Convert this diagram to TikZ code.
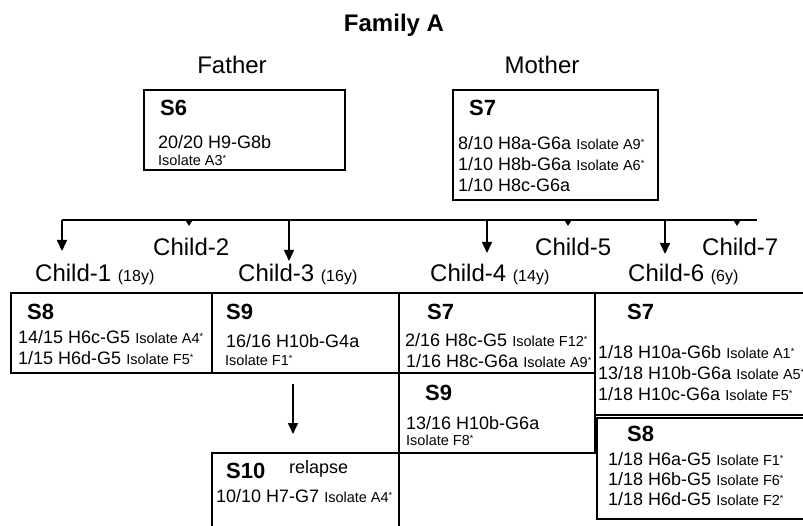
\documentclass[tikz,border=0pt]{standalone}
\usepackage{fontspec}
\setmainfont{Liberation Sans}
\usetikzlibrary{arrows.meta}

\newcommand{\age}[1]{{\fontsize{16}{18}\selectfont(#1)}}
\newcommand{\iso}[1]{{\fontsize{14.5}{16}\selectfont Isolate #1\raisebox{4pt}{\fontsize{9}{9}\selectfont *}}}

\begin{document}
\begin{tikzpicture}[
    x=1pt, y=-1pt,
    title/.style={font=\fontsize{24}{28}\selectfont\bfseries, anchor=base, inner sep=0pt},
    role/.style={font=\fontsize{24}{28}\selectfont, anchor=base, inner sep=0pt},
    child/.style={font=\fontsize{24}{28}\selectfont, anchor=base west, inner sep=0pt},
    famBox/.style={
        rectangle,
        draw,
        line width=1.6pt,
        anchor=north west,
        inner sep=0pt
    },
    sid/.style={font=\fontsize{22}{26}\selectfont\bfseries, anchor=base west, inner sep=0pt},
    entry/.style={font=\fontsize{18}{21}\selectfont, anchor=base west, inner sep=0pt},
    bar/.style={line width=2pt},
    arrow/.style={-{Triangle[length=11pt, width=10pt]}, line width=1.6pt},
    tick/.style={-{Triangle[length=6pt, width=7pt]}, line width=1.6pt}
]
\useasboundingbox (0,0) rectangle (803,526);
\clip (0,0) rectangle (803,526);

% Title and parents
\node[title] (title) at (394,32) {Family A};
\node[role] (father) at (232,74) {Father};
\node[role] (mother) at (542,74) {Mother};

\node[famBox, minimum width=201pt, minimum height=80pt] (s6) at (143,89) {};
\node[sid] (s6head) at (160,116) {S6};
\node[entry] (s6a) at (158,149) {20/20 H9-G8b};
\node[entry] (s6b) at (158,166) {\iso{A3}};

\node[famBox, minimum width=205pt, minimum height=110pt] (s7m) at (452,89) {};
\node[sid] (s7mhead) at (469,116) {S7};
\node[entry] (s7ma) at (458,150) {8/10 H8a-G6a \iso{A9}};
\node[entry] (s7mb) at (458,171) {1/10 H8b-G6a \iso{A6}};
\node[entry] (s7mc) at (458,192) {1/10 H8c-G6a};

% Children
\node[child] (c1) at (35,282) {Child-1 \age{18y}};
\node[child] (c2) at (153,256) {Child-2};
\node[child] (c3) at (238,282) {Child-3 \age{16y}};
\node[child] (c4) at (430,282) {Child-4 \age{14y}};
\node[child] (c5) at (535,256) {Child-5};
\node[child] (c6) at (628,282) {Child-6 \age{6y}};
\node[child] (c7) at (702,256) {Child-7};

% Sibship bar
\coordinate (barL) at (62,220);
\coordinate (barR) at (757,220);
\coordinate (c1tip) at (62,251);
\coordinate (c2tip) at (189,226);
\coordinate (c3tip) at (289,261);
\coordinate (c4tip) at (487,253);
\coordinate (c5tip) at (568,226);
\coordinate (c6tip) at (665,254);
\coordinate (c7tip) at (737,226);

\draw[bar] (barL) -- (barR);
\draw[arrow] (barL) -- (c1tip);
\draw[tick] (barL -| c2tip) -- (c2tip);
\draw[arrow] (barL -| c3tip) -- (c3tip);
\draw[arrow] (barL -| c4tip) -- (c4tip);
\draw[tick] (barL -| c5tip) -- (c5tip);
\draw[arrow] (barL -| c6tip) -- (c6tip);
\draw[tick] (barL -| c7tip) -- (c7tip);

% Samples per child
\node[famBox, minimum width=201pt, minimum height=80pt] (s8a) at (10,292) {};
\node[sid] (s8ahead) at (27,320) {S8};
\node[entry] (s8aa) at (18,344) {14/15 H6c-G5 \iso{A4}};
\node[entry] (s8ab) at (18,365) {1/15 H6d-G5 \iso{F5}};

\node[famBox, minimum width=187pt, minimum height=80pt] (s9a) at (211,292) {};
\node[sid] (s9ahead) at (226,320) {S9};
\node[entry] (s9aa) at (226,348) {16/16 H10b-G4a};
\node[entry] (s9ab) at (225,366) {\iso{F1}};

\node[famBox, minimum width=196pt, minimum height=80pt] (s7b) at (398,292) {};
\node[sid] (s7bhead) at (427,320) {S7};
\node[entry] (s7ba) at (405,347) {2/16 H8c-G5 \iso{F12}};
\node[entry] (s7bb) at (406,368) {1/16 H8c-G6a \iso{A9}};

\node[famBox, minimum width=196pt, minimum height=80pt] (s9b) at (398,372) {};
\node[sid] (s9bhead) at (425,400) {S9};
\node[entry] (s9ba) at (406,429) {13/16 H10b-G6a};
\node[entry] (s9bb) at (406,445) {\iso{F8}};

\node[famBox, minimum width=240pt, minimum height=122pt] (s7c) at (594,292) {};
\node[sid] (s7chead) at (627,320) {S7};
\node[entry] (s7ca) at (598,359) {1/18 H10a-G6b \iso{A1}};
\node[entry] (s7cb) at (598,380) {13/18 H10b-G6a \iso{A5}};
\node[entry] (s7cc) at (598,400) {1/18 H10c-G6a \iso{F5}};

\node[famBox, minimum width=240pt, minimum height=101pt] (s8b) at (596,417) {};
\node[sid] (s8bhead) at (627,441) {S8};
\node[entry] (s8ba) at (608,465) {1/18 H6a-G5 \iso{F1}};
\node[entry] (s8bb) at (608,485) {1/18 H6b-G5 \iso{F6}};
\node[entry] (s8bc) at (608,505) {1/18 H6d-G5 \iso{F2}};

% Relapse of child-3
\node[famBox, minimum width=187pt, minimum height=110pt] (s10) at (211,452) {};
\node[sid] (s10head) at (226,478) {S10};
\node[entry] (relapse) at (289,473) {relapse};
\node[entry] (s10a) at (216,502) {10/10 H7-G7 \iso{A4}};

\coordinate (relFrom) at (293,384);
\coordinate (relTo) at (293,434);
\draw[arrow] (relFrom) -- (relTo);

\end{tikzpicture}
\end{document}
